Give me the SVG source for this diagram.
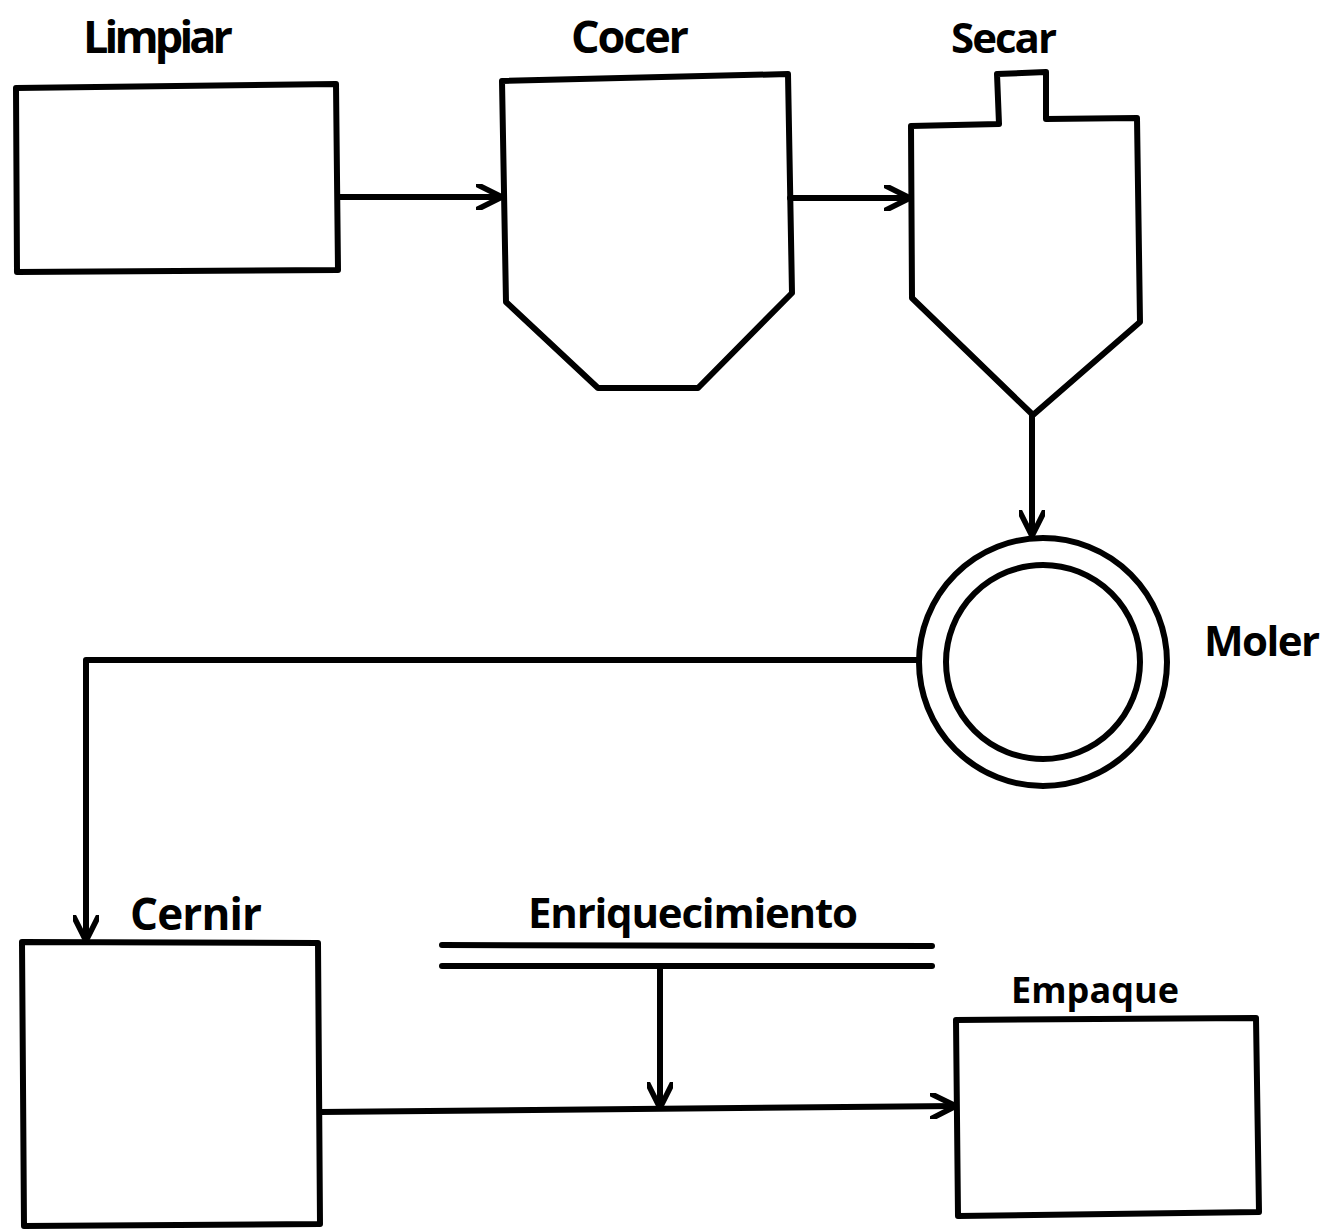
<svg xmlns="http://www.w3.org/2000/svg" width="1329" height="1230" viewBox="0 0 1329 1230">
<defs>
<style>
.s{fill:none;stroke:#000;stroke-width:6;stroke-linejoin:round;stroke-linecap:round}
.t{font-family:"Open Sans","DejaVu Sans",sans-serif;font-weight:700;fill:#000}
</style>
<marker id="ah" viewBox="0 0 28 26" refX="26" refY="13" markerWidth="28" markerHeight="26" markerUnits="userSpaceOnUse" orient="auto">
<path d="M2,1 L26,13 L2,25" fill="none" stroke="#000" stroke-width="5.5" stroke-linecap="round" stroke-linejoin="round"/>
</marker>
</defs>
<rect width="1329" height="1230" fill="#fff"/>
<g id="limpiar">
<path class="s" d="M16,88 L336,84 L338,270 L17,272 Z"/>
<text class="t" x="158" y="53" font-size="45" text-anchor="middle" textLength="150">Limpiar</text>
</g>
<g id="cocer">
<path class="s" d="M502,81 L788,74 L792,293 L698,388 L598,388 L506,302 Z"/>
<text class="t" x="630" y="53" font-size="45" text-anchor="middle" textLength="118">Cocer</text>
</g>
<g id="secar">
<path class="s" d="M911,126 L999,124 L997,74 L1046,72 L1046,119 L1137,118 L1140,322 L1033,415 L912,298 Z"/>
<text class="t" x="1004" y="53" font-size="42" text-anchor="middle" textLength="106">Secar</text>
</g>
<g id="moler">
<circle class="s" cx="1043" cy="662" r="124"/>
<circle class="s" cx="1043" cy="662" r="97"/>
<text class="t" x="1204" y="656" font-size="42" textLength="116">Moler</text>
</g>
<g id="cernir">
<path class="s" d="M22,942 L318,943 L320,1224 L24,1226 Z"/>
<text class="t" x="130" y="930" font-size="44" textLength="132">Cernir</text>
</g>
<g id="enriquecimiento">
<line class="s" x1="442" y1="945" x2="932" y2="946"/>
<line class="s" x1="442" y1="966" x2="932" y2="966"/>
<text class="t" x="528" y="928" font-size="42" textLength="330">Enriquecimiento</text>
</g>
<g id="empaque">
<path class="s" d="M956,1020 L1256,1018 L1259,1212 L958,1216 Z"/>
<text class="t" x="1095" y="1003" font-size="36" text-anchor="middle" textLength="168">Empaque</text>
</g>
<g id="connectors">
<line class="s" x1="338" y1="197" x2="502" y2="197" marker-end="url(#ah)"/>
<line class="s" x1="790" y1="198" x2="910" y2="198" marker-end="url(#ah)"/>
<line class="s" x1="1032" y1="415" x2="1032" y2="536" marker-end="url(#ah)"/>
<polyline class="s" points="918,660 86,660 86,941" marker-end="url(#ah)"/>
<line class="s" x1="660" y1="966" x2="660" y2="1108" marker-end="url(#ah)"/>
<line class="s" x1="320" y1="1112" x2="956" y2="1106" marker-end="url(#ah)"/>
</g>
</svg>
